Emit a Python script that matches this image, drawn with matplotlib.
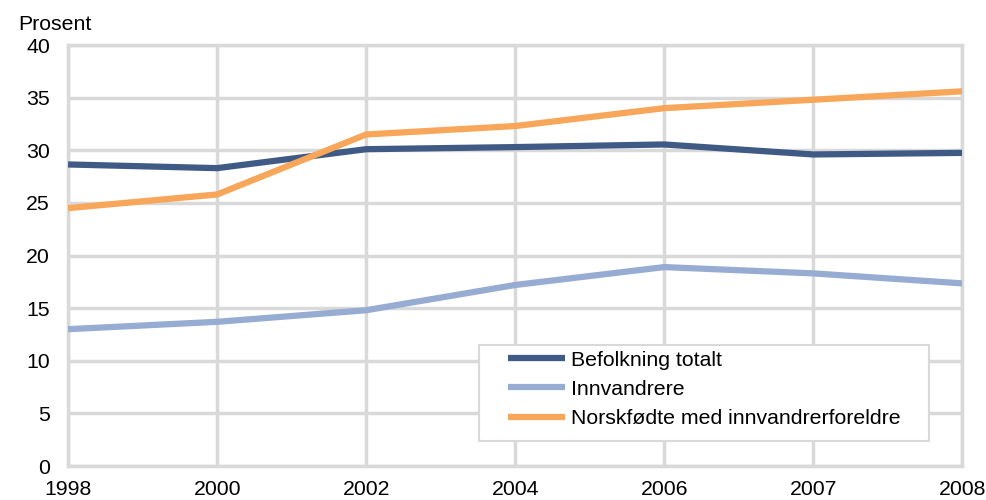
import matplotlib

matplotlib.use("Agg")
import matplotlib.pyplot as plt
from matplotlib.patches import Rectangle

plt.rcParams['font.family'] = ['Liberation Sans', 'DejaVu Sans']

years = ["1998", "2000", "2002", "2004", "2006", "2007", "2008"]
befolkning = [28.65, 28.3, 30.1, 30.3, 30.55, 29.6, 29.75]
innvandrere = [13.0, 13.7, 14.8, 17.2, 18.9, 18.3, 17.35]
norskfodte = [24.5, 25.8, 31.5, 32.3, 34.0, 34.8, 35.6]

labels = ["Befolkning totalt", "Innvandrere", "Norskfødte med innvandrerforeldre"]
colors = ["#3f5a85", "#97acd2", "#f8a65a"]

fs = 15.3

fig = plt.figure(figsize=(9.87, 5.0), dpi=100)
ax = fig.add_axes([0.069, 0.068, 0.906, 0.842])

x = list(range(len(years)))
for vals, lab, col in zip([befolkning, innvandrere, norskfodte], labels, colors):
    ax.plot(x, vals, color=col, linewidth=4.5, label=lab, solid_capstyle='butt', zorder=3)

ax.set_xlim(0, len(years) - 1)
ax.set_ylim(0, 40)
ax.set_yticks(range(0, 41, 5))
ax.set_xticks(x)
ax.set_xticklabels(years)

ax.grid(True, color='#d9d9d9', linewidth=2.5, zorder=0)
for s in ax.spines.values():
    s.set_color('#d9d9d9')
    s.set_linewidth(2.5)
ax.tick_params(length=0, labelsize=fs, colors='black')
ax.tick_params(axis='y', pad=13)
ax.tick_params(axis='x', pad=10)

fig.text(0.018, 0.952, "Prosent", fontsize=fs, va='center', ha='left')

# legend frame drawn separately so the padding matches
box = Rectangle((0.4597, 0.0594), 0.5033, 0.228, transform=ax.transAxes,
                facecolor='white', edgecolor='#d9d9d9', linewidth=1.5,
                zorder=4, clip_on=False)
ax.add_patch(box)

leg = ax.legend(loc='upper left', bbox_to_anchor=(0.492, 0.274), fontsize=fs,
                frameon=False, handlelength=2.7, handletextpad=0.25,
                borderpad=0, labelspacing=0.48, borderaxespad=0)
leg.set_zorder(5)

fig.savefig("out.png", dpi=100)
